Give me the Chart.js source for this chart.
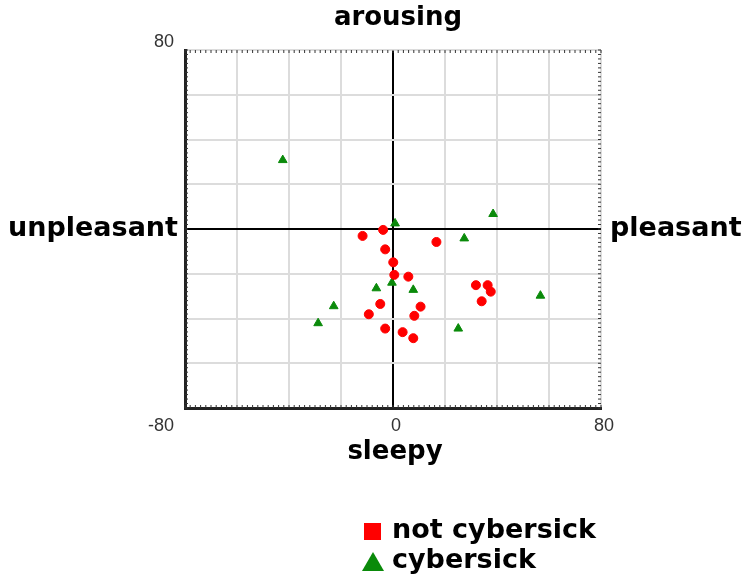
<!DOCTYPE html>
<html>
<head>
<meta charset="utf-8">
<script src="https://cdn.jsdelivr.net/npm/chart.js@4.4.1/dist/chart.umd.min.js"></script>
<style>
  html, body { margin: 0; padding: 0; background: #fff; }
  #wrap { width: 743px; height: 584px; position: relative; }
</style>
</head>
<body>
<div id="wrap"><canvas id="c"></canvas></div>
<script>
// pleasant (x) vs arousing (y), -80..80
const notSickX = [-11.7, -3.8, -3.0, 0.1, 0.5, 5.9, 16.7, 31.9, 36.4, 37.6, 34.1, -4.9, -9.3, 10.6, 8.2, -3.0, 3.7, 7.8];
const notSickY = [-3.1, -0.4, -9.1, -14.9, -20.5, -21.3, -5.8, -25.1, -25.1, -28, -32.3, -33.5, -38.1, -34.7, -38.8, -44.5, -46.1, -48.8];
const sickX = [-42.4, 38.5, 0.8, 27.4, -0.4, -6.4, 7.8, 56.7, -22.8, -28.8, 25.1];
const sickY = [30.8, 6.7, 2.5, -4.2, -24, -26.5, -27.2, -29.8, -34.5, -42.1, -44.5];
const seriesNames = ["not cybersick", "cybersick"];
const axisMin = -80, axisMax = 80, gridStep = 20;
const xTickLabels = ["-80", "0", "80"];
const yTickLabels = ["80"];

const toPts = (xs, ys) => xs.map((x, i) => ({ x: x, y: ys[i] }));

const BOLD = "bold 26px 'DejaVu Sans'";
const BOLD_L = "bold 27px 'DejaVu Sans'";
const TICKF = "18px 'Liberation Sans Narrow', 'Liberation Sans'";

const labelsPlugin = {
    id: "labels",
    afterDraw(chart) {
        const ctx = chart.ctx;
        const a = chart.chartArea;
        const xs = chart.scales.x, ys = chart.scales.y;
        const cx = xs.getPixelForValue(0), cy = ys.getPixelForValue(0);

        // minor ticks on the frame
        ctx.save();
        ctx.strokeStyle = "#333";
        ctx.lineWidth = 1;
        ctx.beginPath();
        for (let v = axisMin; v <= axisMax; v += 2) {
            const px = xs.getPixelForValue(v), py = ys.getPixelForValue(v);
            ctx.moveTo(px, a.top); ctx.lineTo(px, a.top + 3);
            ctx.moveTo(px, a.bottom); ctx.lineTo(px, a.bottom - 3);
            ctx.moveTo(a.left, py); ctx.lineTo(a.left + 3, py);
            ctx.moveTo(a.right, py); ctx.lineTo(a.right - 3, py);
        }
        ctx.stroke();

        // quadrant labels
        ctx.fillStyle = "#000";
        ctx.font = BOLD;
        ctx.textBaseline = "middle";
        ctx.textAlign = "center";
        ctx.fillText("arousing", cx + 5, 18);
        ctx.fillText("sleepy", cx + 2, a.bottom + 44);
        ctx.font = BOLD_L;
        ctx.textAlign = "right";
        ctx.fillText("unpleasant", a.left - 7, cy);
        ctx.textAlign = "left";
        ctx.fillText("pleasant", a.right + 9, cy);

        // tick labels
        ctx.font = TICKF;
        ctx.fillStyle = "#333";
        ctx.textAlign = "center";
        ctx.fillText(yTickLabels[0], a.left - 21, a.top - 8);
        xTickLabels.forEach(t => {
            const v = Number(t);
            let px = xs.getPixelForValue(v);
            if (v === axisMin) px -= 24;
            else if (v === 0) px += 3;
            else px += 3;
            ctx.fillText(t, px, a.bottom + 18);
        });

        // legend
        const ds = chart.data.datasets;
        ctx.fillStyle = ds[0].backgroundColor;
        ctx.fillRect(364, 523, 17, 17);
        ctx.fillStyle = ds[1].backgroundColor;
        ctx.beginPath();
        ctx.moveTo(373, 552); ctx.lineTo(384, 571); ctx.lineTo(362, 571); ctx.closePath();
        ctx.fill();
        ctx.fillStyle = "#000";
        ctx.font = BOLD_L;
        ctx.textAlign = "left";
        ctx.fillText(seriesNames[0], 392, 531);
        ctx.fillText(seriesNames[1], 392, 561);
        ctx.restore();
    }
};

const gridColor = c => (c.tick && c.tick.value === 0) ? "#000" : "#dcdcdc";

new Chart(document.getElementById("c"), {
    type: "scatter",
    data: {
        datasets: [
            { label: seriesNames[0], data: toPts(notSickX, notSickY), backgroundColor: "#ff0000", borderColor: "#ff0000",
              pointStyle: "circle", pointRadius: 4.5, pointHoverRadius: 4.5 },
            { label: seriesNames[1], data: toPts(sickX, sickY), backgroundColor: "#0a8a0a", borderColor: "#0a8a0a",
              pointStyle: "triangle", pointRadius: 5, pointHoverRadius: 5 }
        ]
    },
    options: {
        responsive: true, maintainAspectRatio: false, animation: false,
        layout: { padding: { left: 185, top: 50, right: 142, bottom: 176 } },
        plugins: { legend: { display: false }, tooltip: { enabled: false } },
        scales: {
            x: {
                min: axisMin, max: axisMax,
                ticks: { display: false, stepSize: gridStep },
                grid: { color: gridColor, lineWidth: 2, drawTicks: false },
                border: { display: true, color: "#222", width: 3 }
            },
            y: {
                min: axisMin, max: axisMax,
                ticks: { display: false, stepSize: gridStep },
                grid: { color: gridColor, lineWidth: 2, drawTicks: false },
                border: { display: true, color: "#222", width: 3 }
            }
        }
    },
    plugins: [labelsPlugin]
});
</script>
</body>
</html>
